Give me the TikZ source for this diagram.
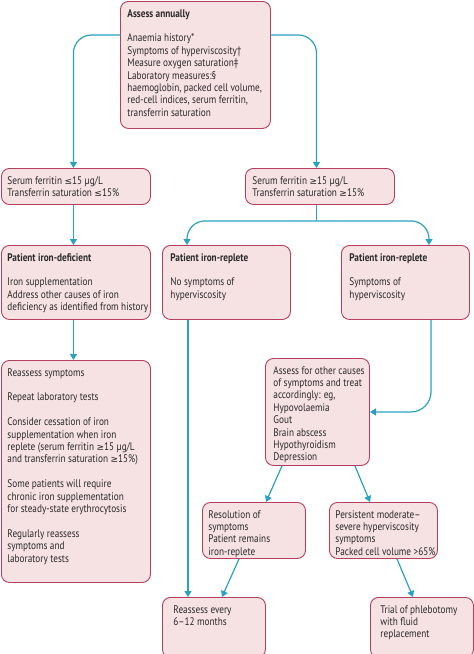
\documentclass[tikz,border=0pt]{standalone}
\usepackage{fontspec}
\setmainfont{PT Sans}[FakeStretch=0.84]
\newfontfamily\symfont{DejaVu Sans}[Scale=0.82]
\newcommand\myle{{\symfont ≤}}
\newcommand\myge{{\symfont ≥}}
\usetikzlibrary{arrows.meta}
\definecolor{boxfill}{HTML}{F6E1E3}
\definecolor{boxline}{HTML}{B4405E}
\definecolor{conncol}{HTML}{2AA2BE}
\definecolor{txt}{HTML}{2A2A2A}
\newcommand\btext[3]{\parbox[c][#2][t]{#1}{\vspace*{7pt}\begin{tabular}{@{}l@{}}#3\end{tabular}}}
\begin{document}
\begin{tikzpicture}[x=1pt,y=-1pt,
  box/.style={draw=boxline,fill=boxfill,line width=0.9pt,rounded corners=8pt,
    anchor=north west,inner ysep=0pt,inner xsep=7pt,text=txt,
    font=\fontsize{11}{12.4}\selectfont},
  conn/.style={draw=conncol,line width=1.2pt},
  arr/.style={conn,-{Triangle[width=7pt,length=6pt]}}]
\useasboundingbox (0,0) rectangle (474,654);
% boxes
\node[box] (top) at (120,1) {\btext{136pt}{127pt}{\textbf{Assess annually}\\[12.4pt]
Anaemia history*\\Symptoms of hyperviscosity†\\Measure oxygen saturation‡\\Laboratory measures:§\\haemoglobin, packed cell volume,\\red-cell indices, serum ferritin,\\transferrin saturation}};
\node[box,inner xsep=6pt] (serumL) at (1,168) {\btext{137pt}{36pt}{Serum ferritin \myle15 µg/L\\Transferrin saturation \myle15\%}};
\node[box] (serumR) at (245,168) {\btext{135pt}{36pt}{Serum ferritin \myge15 µg/L\\Transferrin saturation \myge15\%}};
\node[box,inner xsep=6pt] (defic) at (1,245) {\btext{137pt}{74pt}{\textbf{Patient iron-deficient}\\[12.4pt]
Iron supplementation\\Address other causes of iron\\deficiency as identified from history}};
\node[box,inner xsep=8pt] (replA) at (162,245) {\btext{112pt}{74pt}{\textbf{Patient iron-replete}\\[12.4pt]
No symptoms of\\hyperviscosity}};
\node[box,inner xsep=8pt] (replB) at (341,245) {\btext{112pt}{74pt}{\textbf{Patient iron-replete}\\[12.4pt]
Symptoms of\\hyperviscosity}};
\node[box,inner xsep=6pt] (resym) at (1,360) {\btext{137pt}{222pt}{Reassess symptoms\\[12.4pt]
Repeat laboratory tests\\[12.4pt]
Consider cessation of iron\\supplementation when iron\\replete (serum ferritin \myge15 µg/L\\and transferrin saturation \myge15\%)\\[12.4pt]
Some patients will require\\chronic iron supplementation\\for steady-state erythrocytosis\\[12.4pt]
Regularly reassess\\symptoms and\\laboratory tests}};
\node[box,inner xsep=8pt] (other) at (265,358) {\btext{88pt}{107pt}{Assess for other causes\\of symptoms and treat\\accordingly: eg,\\Hypovolaemia\\Gout\\Brain abscess\\Hypothyroidism\\Depression}};
\node[box,inner xsep=6pt] (resol) at (202,502) {\btext{91pt}{56pt}{Resolution of\\symptoms\\Patient remains\\iron-replete}};
\node[box,inner xsep=6pt] (persist) at (329,502) {\btext{96pt}{56pt}{Persistent moderate–\\severe hyperviscosity\\symptoms\\Packed cell volume >65\%}};
\node[box,inner xsep=11pt] (every) at (162,597) {\btext{81pt}{60pt}{Reassess every\\6–12 months}};
\node[box,inner xsep=10pt] (trial) at (370,597) {\btext{83pt}{60pt}{Trial of phlebotomy\\with fluid\\replacement}};
% connectors
\draw[arr,rounded corners=18pt] (top.west |- 0,35) -| ([xshift=-2.5pt]serumL.north);
\draw[arr,rounded corners=18pt] (top.east |- 0,35) -| ([xshift=-3.5pt]serumR.north);
\draw[arr] ([xshift=-2.5pt]serumL.south) -- ([xshift=-2.5pt]defic.north);
\draw[conn] ([xshift=-3.5pt]serumR.south) -- ++(0,16) coordinate (split);
\draw[arr,rounded corners=18pt] (split) -| ([xshift=25pt]replA.north west);
\draw[arr,rounded corners=18pt] (split) -| ([xshift=88pt]replB.north west);
\draw[arr] ([xshift=-2.5pt]defic.south) -- ([xshift=-2.5pt]resym.north);
\draw[arr] ([xshift=26pt]replA.south west) -- ([xshift=26pt]every.north west);
\draw[arr,rounded corners=20pt] ([xshift=90pt]replB.south west) |- (other.east);
\draw[arr] ([xshift=17pt]other.south west) -- ([xshift=64pt]resol.north west);
\draw[arr] ([xshift=90pt]other.south west) -- ([xshift=41pt]persist.north west);
\draw[arr] ([xshift=37pt]resol.south west) -- ([xshift=60pt]every.north west);
\draw[arr] ([xshift=68pt]persist.south west) -- ([xshift=43pt]trial.north west);
\end{tikzpicture}
\end{document}
